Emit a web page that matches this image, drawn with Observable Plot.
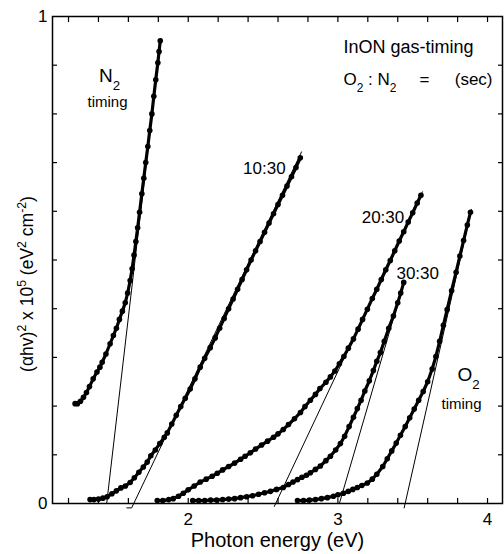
<!DOCTYPE html>
<html><head><meta charset="utf-8">
<script src="https://cdn.jsdelivr.net/npm/d3@7"></script>
<script src="https://cdn.jsdelivr.net/npm/@observablehq/plot@0.6"></script>
<style>
html,body{margin:0;padding:0;background:#fff;}
#chart{width:504px;height:554px;overflow:hidden;}
svg{font-family:"Liberation Sans",Arial,sans-serif;}
</style></head><body><div id="chart"></div>
<script>
// ---- data (x: photon energy eV, y: (αhv)^2 x 10^5) ----
const seriesNames = ["N2 timing", "10:30", "20:30", "30:30", "O2 timing"];

const n2Timing = [[1.244,0.205],[1.26,0.205],[1.28,0.21],[1.30,0.218],[1.32,0.228],[1.34,0.240],[1.365,0.256],[1.39,0.270],[1.41,0.280],[1.425,0.290],[1.45,0.307],[1.478,0.328],[1.50,0.345],[1.52,0.360],[1.54,0.378],[1.56,0.395],[1.579,0.412],[1.595,0.432],[1.612,0.458],[1.625,0.482],[1.638,0.510],[1.65,0.538],[1.662,0.566],[1.675,0.598],[1.69,0.636],[1.703,0.668],[1.716,0.700],[1.73,0.733],[1.743,0.766],[1.757,0.800],[1.77,0.836],[1.783,0.870],[1.797,0.905],[1.805,0.928],[1.813,0.950]];

const ratio1030 = [[1.344,0.008],[1.37,0.008],[1.40,0.009],[1.43,0.011],[1.458,0.014],[1.49,0.020],[1.52,0.026],[1.55,0.032],[1.58,0.036],[1.612,0.043],[1.64,0.053],[1.67,0.064],[1.70,0.075],[1.726,0.085],[1.75,0.098],[1.78,0.110],[1.81,0.123],[1.84,0.136],[1.86,0.145],[1.89,0.163],[1.92,0.181],[1.95,0.199],[1.98,0.216],[2.013,0.235],[2.045,0.256],[2.08,0.280],[2.11,0.298],[2.147,0.320],[2.18,0.340],[2.21,0.360],[2.24,0.380],[2.27,0.400],[2.30,0.420],[2.33,0.440],[2.36,0.460],[2.39,0.480],[2.42,0.500],[2.45,0.519],[2.48,0.538],[2.51,0.557],[2.54,0.576],[2.57,0.595],[2.60,0.614],[2.63,0.633],[2.66,0.652],[2.69,0.671],[2.72,0.690],[2.749,0.710]];

const ratio2030 = [[1.793,0.006],[1.83,0.006],[1.87,0.008],[1.90,0.010],[1.935,0.015],[1.967,0.021],[2.00,0.028],[2.04,0.036],[2.08,0.044],[2.12,0.050],[2.16,0.056],[2.194,0.062],[2.23,0.069],[2.27,0.076],[2.31,0.083],[2.35,0.091],[2.38,0.097],[2.415,0.104],[2.45,0.112],[2.49,0.120],[2.53,0.128],[2.57,0.136],[2.60,0.143],[2.635,0.152],[2.67,0.162],[2.71,0.174],[2.75,0.187],[2.78,0.199],[2.816,0.212],[2.85,0.224],[2.88,0.236],[2.92,0.249],[2.95,0.260],[2.98,0.272],[3.01,0.287],[3.04,0.302],[3.07,0.319],[3.104,0.338],[3.135,0.358],[3.165,0.378],[3.197,0.399],[3.23,0.421],[3.26,0.440],[3.29,0.460],[3.32,0.480],[3.35,0.499],[3.38,0.519],[3.41,0.539],[3.44,0.558],[3.47,0.578],[3.50,0.597],[3.53,0.617],[3.555,0.633]];

const ratio3030 = [[2.03,0.006],[2.07,0.006],[2.11,0.006],[2.15,0.007],[2.19,0.007],[2.23,0.008],[2.27,0.009],[2.31,0.010],[2.35,0.012],[2.39,0.014],[2.43,0.016],[2.47,0.019],[2.51,0.022],[2.55,0.025],[2.59,0.029],[2.635,0.033],[2.67,0.039],[2.70,0.044],[2.73,0.049],[2.76,0.054],[2.79,0.058],[2.816,0.063],[2.85,0.070],[2.883,0.077],[2.92,0.088],[2.95,0.097],[2.985,0.110],[3.017,0.123],[3.045,0.138],[3.075,0.158],[3.104,0.177],[3.13,0.195],[3.155,0.212],[3.18,0.231],[3.21,0.252],[3.237,0.273],[3.26,0.292],[3.284,0.310],[3.31,0.333],[3.34,0.360],[3.371,0.385],[3.40,0.412],[3.42,0.432],[3.44,0.454]];

const o2Timing = [[2.73,0.006],[2.77,0.006],[2.81,0.007],[2.85,0.008],[2.89,0.010],[2.93,0.012],[2.97,0.015],[3.00,0.018],[3.037,0.021],[3.07,0.025],[3.10,0.029],[3.13,0.033],[3.16,0.037],[3.197,0.042],[3.23,0.050],[3.26,0.060],[3.30,0.076],[3.33,0.092],[3.36,0.108],[3.39,0.124],[3.418,0.140],[3.45,0.158],[3.48,0.176],[3.51,0.194],[3.54,0.212],[3.57,0.230],[3.60,0.250],[3.63,0.276],[3.655,0.302],[3.68,0.333],[3.705,0.366],[3.73,0.398],[3.76,0.437],[3.79,0.475],[3.815,0.508],[3.84,0.540],[3.865,0.572],[3.886,0.598]];

// tangent (extrapolation) lines, each a short polyline
const fitN2   = [[1.455,0.0],[1.817,0.955]];
const fit1030 = [[1.59,-0.009],[1.622,-0.009],[2.757,0.722]];
const fit2030 = [[2.575,-0.006],[3.565,0.640]];
const fit3030 = [[3.01,0.0],[3.445,0.458]];
const fitO2   = [[3.443,-0.009],[3.892,0.604]];

// axis ticks
const xTickLabels = [2, 3, 4];
const yTickLabels = [0, 1];
const xMinorTicks = [1.2,1.4,1.6,1.8,2.0,2.2,2.4,2.6,2.8,3.0,3.2,3.4,3.6,3.8,4.0];
const yMinorTicks = [0.1,0.2,0.3,0.4,0.5,0.6,0.7,0.8,0.9];

// ---- build tables ----
const allSeries = [n2Timing, ratio1030, ratio2030, ratio3030, o2Timing];
const allFits = [fitN2, fit1030, fit2030, fit3030, fitO2];
const points = allSeries.flatMap((arr, i) => arr.map(([x, y]) => ({series: seriesNames[i], x, y})));
const fits = allFits.flatMap((arr, i) => arr.map(([x, y]) => ({series: seriesNames[i], x, y})));
const lastOf = (arr) => [{x: arr[arr.length - 1][0], y: arr[arr.length - 1][1]}];

const font = 17;
const chart = Plot.plot({
  width: 504,
  height: 554,
  marginLeft: 52,
  marginRight: 2,
  marginTop: 16,
  marginBottom: 51,
  style: {fontFamily: '"Liberation Sans", Arial, sans-serif', background: "white"},
  x: {domain: [1.093, 4.1]},
  y: {domain: [0, 1]},
  marks: [
    Plot.line(fits, {x: "x", y: "y", z: "series", stroke: "black", strokeWidth: 1}),
    Plot.line(points, {x: "x", y: "y", z: "series", stroke: "black", strokeWidth: 3.2}),
    Plot.dot(points, {x: "x", y: "y", r: 2.8, fill: "black", stroke: "none"}),
    Plot.frame({stroke: "black", strokeWidth: 1.5}),
    Plot.axisX(xMinorTicks, {anchor: "bottom", tickSize: -5, tickFormat: () => "", label: null, strokeWidth: 1.2}),
    Plot.axisX(xMinorTicks, {anchor: "top", tickSize: -5, tickFormat: () => "", label: null, strokeWidth: 1.2}),
    Plot.axisY(yMinorTicks, {anchor: "left", tickSize: -5, tickFormat: () => "", label: null, strokeWidth: 1.2}),
    Plot.axisY(yMinorTicks, {anchor: "right", tickSize: -5, tickFormat: () => "", label: null, strokeWidth: 1.2}),
    Plot.axisX(xTickLabels, {anchor: "bottom", tickSize: 0, tickPadding: 9, fontSize: font, label: null, tickFormat: d => String(d)}),
    Plot.axisY(yTickLabels, {anchor: "left", tickSize: 0, tickPadding: 5, fontSize: font, label: null, tickFormat: d => String(d)}),
    // axis titles
    Plot.text(["Photon energy (eV)"], {frameAnchor: "bottom", text: d => d, dy: 37, fontSize: 20, lineAnchor: "middle", textAnchor: "middle"}),
    Plot.text(["(αhv)^{2} x 10^{5} (eV^{2} cm^{-2})"], {frameAnchor: "left", text: d => d, rotate: -90, dx: -25, dy: 24, fontSize: 17.5, lineAnchor: "middle", textAnchor: "middle"}),
    // series labels
    Plot.text(lastOf(ratio1030), {x: "x", y: "y", text: () => "10:30", dx: -36, dy: 11, fontSize: font}),
    Plot.text(lastOf(ratio2030), {x: "x", y: "y", text: () => "20:30", dx: -38, dy: 22, fontSize: font}),
    Plot.text(lastOf(ratio3030), {x: "x", y: "y", text: () => "30:30", dx: 14, dy: -9, fontSize: font}),
    Plot.text(["N_{2}"], {frameAnchor: "top-left", text: d => d, dx: 57, dy: 52, fontSize: 19, textAnchor: "middle"}),
    Plot.text(["timing"], {frameAnchor: "top-left", text: d => d, dx: 55, dy: 80, fontSize: 15, textAnchor: "middle"}),
    Plot.text(["O_{2}"], {frameAnchor: "bottom-right", text: d => d, dx: -34, dy: -123, fontSize: 19, textAnchor: "middle"}),
    Plot.text(["timing"], {frameAnchor: "bottom-right", text: d => d, dx: -41, dy: -95, fontSize: 15, textAnchor: "middle"}),
    Plot.text(["InON gas-timing"], {frameAnchor: "top-right", text: d => d, dx: -94, dy: 24, fontSize: 18, textAnchor: "middle"}),
    Plot.text(["O_{2} : N_{2}"], {frameAnchor: "top-right", text: d => d, dx: -159, dy: 56, fontSize: 17, textAnchor: "start"}),
    Plot.text(["="], {frameAnchor: "top-right", text: d => d, dx: -78, dy: 56, fontSize: 17, textAnchor: "middle"}),
    Plot.text(["(sec)"], {frameAnchor: "top-right", text: d => d, dx: -10, dy: 56, fontSize: 17, textAnchor: "end"})
  ]
});

// rich text: _{..} subscript, ^{..} superscript
d3.select(chart).selectAll("text").each(function () {
  const s = this.textContent;
  if (!/[_^]\{/.test(s)) return;
  const el = d3.select(this);
  el.text(null);
  const re = /([_^])\{([^}]*)\}/g;
  let last = 0, m;
  while ((m = re.exec(s))) {
    if (m.index > last) el.append("tspan").text(s.slice(last, m.index));
    el.append("tspan").attr("baseline-shift", m[1] === "_" ? "sub" : "super").attr("font-size", "70%").text(m[2]);
    last = re.lastIndex;
  }
  if (last < s.length) el.append("tspan").text(s.slice(last));
});

document.getElementById("chart").appendChild(chart);
</script>
</body></html>
